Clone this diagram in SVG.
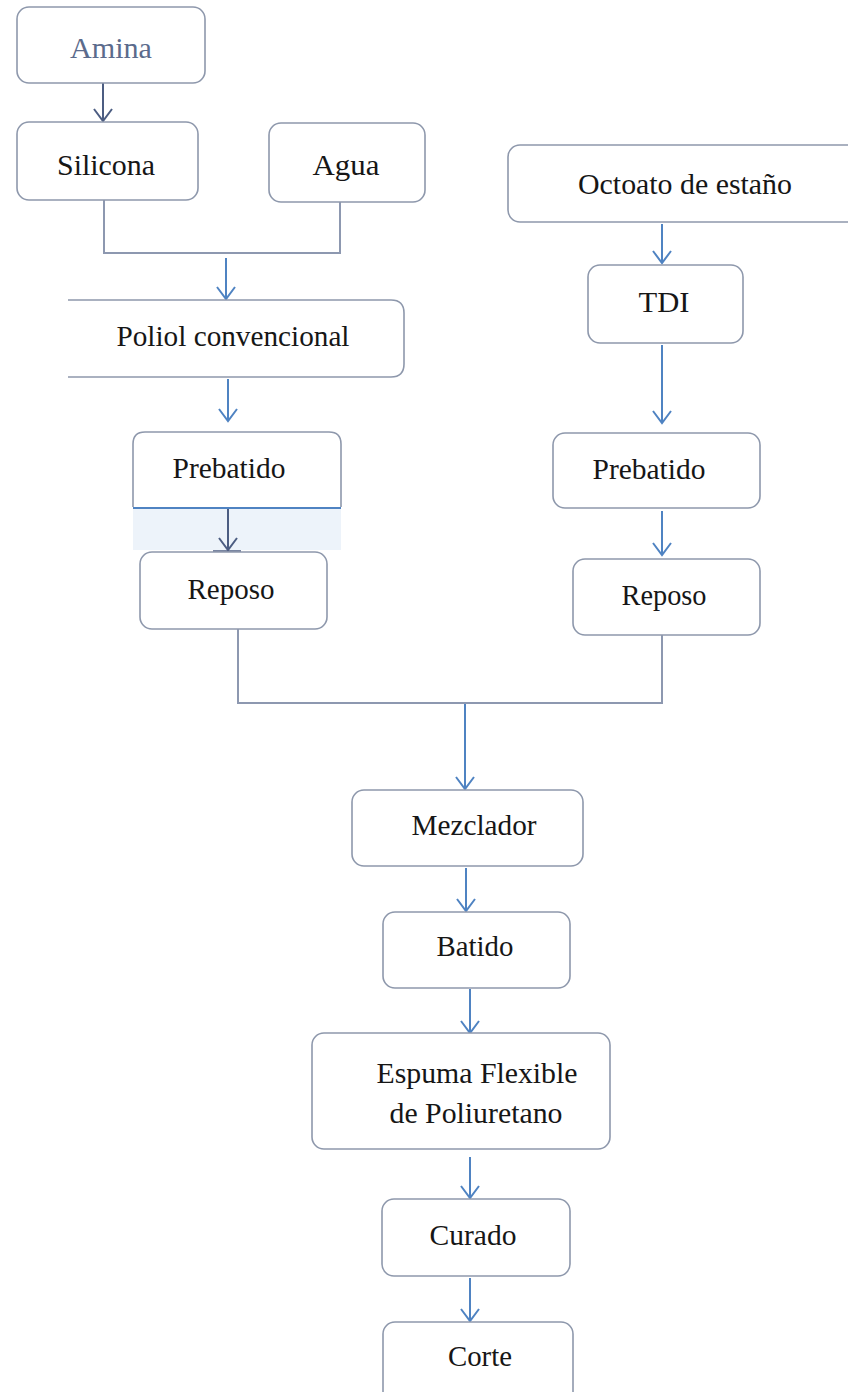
<svg xmlns="http://www.w3.org/2000/svg" width="848" height="1392" viewBox="0 0 848 1392">
<defs>
<style>
.box{fill:#ffffff;stroke:#8e98ac;stroke-width:1.6}
.t{font-family:"Liberation Serif","Times New Roman",serif;font-size:29px;fill:#161616}
.ln{fill:none;stroke:#8d98b0;stroke-width:2}
.ar{fill:none;stroke:#4f83c2;stroke-width:2}
.ard{fill:none;stroke:#4c5d82;stroke-width:2}
</style>
<marker id="v" viewBox="0 0 20 20" refX="18" refY="10" markerWidth="20" markerHeight="20" markerUnits="userSpaceOnUse" orient="auto">
<path d="M6,1 L18,10 L6,19" fill="none" stroke="#4f83c2" stroke-width="2"/>
</marker>
<marker id="vd" viewBox="0 0 20 20" refX="18" refY="10" markerWidth="20" markerHeight="20" markerUnits="userSpaceOnUse" orient="auto">
<path d="M6,1 L18,10 L6,19" fill="none" stroke="#4c5d82" stroke-width="2"/>
</marker>
</defs>
<rect width="848" height="1392" fill="#ffffff"/>

<g id="connectors">
<line class="ard" x1="103" y1="82" x2="103" y2="121" marker-end="url(#vd)"/>
<polyline class="ln" points="104,200 104,253 340,253 340,202"/>
<line class="ar" x1="226" y1="258" x2="226" y2="299" marker-end="url(#v)"/>
<line class="ar" x1="228" y1="379" x2="228" y2="421" marker-end="url(#v)"/>
<rect x="133" y="509" width="208" height="41" fill="#edf3fa"/>
<line x1="133" y1="508" x2="341" y2="508" stroke="#4f83c2" stroke-width="2"/>
<line class="ard" x1="228" y1="509" x2="228" y2="550" marker-end="url(#vd)"/>
<line x1="213" y1="551" x2="241" y2="551" stroke="#4c5d82" stroke-width="1.5"/>
<line class="ar" x1="662" y1="224" x2="662" y2="263" marker-end="url(#v)"/>
<line class="ar" x1="662" y1="345" x2="662" y2="423" marker-end="url(#v)"/>
<line class="ar" x1="662" y1="511" x2="662" y2="555" marker-end="url(#v)"/>
<polyline class="ln" points="238,629 238,703 662,703 662,635"/>
<line class="ar" x1="465" y1="704" x2="465" y2="789" marker-end="url(#v)"/>
<line class="ar" x1="466" y1="868" x2="466" y2="911" marker-end="url(#v)"/>
<line class="ar" x1="470" y1="989" x2="470" y2="1033" marker-end="url(#v)"/>
<line class="ar" x1="470" y1="1157" x2="470" y2="1198" marker-end="url(#v)"/>
<line class="ar" x1="470" y1="1278" x2="470" y2="1321" marker-end="url(#v)"/>
</g>

<g id="amina">
<rect class="box" x="17" y="7" width="188" height="76" rx="12"/>
<text class="t" x="111" y="58" text-anchor="middle" style="fill:#5b6b8c" textLength="82" lengthAdjust="spacingAndGlyphs">Amina</text>
</g>
<g id="silicona">
<rect class="box" x="17" y="122" width="181" height="78" rx="12"/>
<text class="t" x="106" y="175" text-anchor="middle" textLength="98" lengthAdjust="spacingAndGlyphs">Silicona</text>
</g>
<g id="agua">
<rect class="box" x="269" y="123" width="156" height="79" rx="12"/>
<text class="t" x="346" y="175" text-anchor="middle" textLength="67" lengthAdjust="spacingAndGlyphs">Agua</text>
</g>
<g id="poliol">
<path class="box" d="M68,300 H391 Q404,300 404,313 V364 Q404,377 391,377 H68"/>
<text class="t" x="233" y="346" text-anchor="middle" textLength="233" lengthAdjust="spacingAndGlyphs">Poliol convencional</text>
</g>
<g id="prebatido1">
<path class="box" d="M133,507 V444 Q133,432 145,432 H329 Q341,432 341,444 V507"/>
<text class="t" x="229" y="478" text-anchor="middle" textLength="113" lengthAdjust="spacingAndGlyphs">Prebatido</text>
</g>
<g id="reposo1">
<rect class="box" x="140" y="552" width="187" height="77" rx="12"/>
<text class="t" x="231" y="599" text-anchor="middle" textLength="87" lengthAdjust="spacingAndGlyphs">Reposo</text>
</g>
<g id="octoato">
<rect class="box" x="508" y="145" width="360" height="77" rx="12"/>
<text class="t" x="685" y="194" text-anchor="middle" textLength="214" lengthAdjust="spacingAndGlyphs">Octoato de estaño</text>
</g>
<g id="tdi">
<rect class="box" x="588" y="265" width="155" height="78" rx="12"/>
<text class="t" x="664" y="312" text-anchor="middle" textLength="51" lengthAdjust="spacingAndGlyphs">TDI</text>
</g>
<g id="prebatido2">
<rect class="box" x="553" y="433" width="207" height="75" rx="12"/>
<text class="t" x="649" y="479" text-anchor="middle" textLength="113" lengthAdjust="spacingAndGlyphs">Prebatido</text>
</g>
<g id="reposo2">
<rect class="box" x="573" y="559" width="187" height="76" rx="12"/>
<text class="t" x="664" y="605" text-anchor="middle" textLength="85" lengthAdjust="spacingAndGlyphs">Reposo</text>
</g>
<g id="mezclador">
<rect class="box" x="352" y="790" width="231" height="76" rx="12"/>
<text class="t" x="474" y="835" text-anchor="middle" textLength="125" lengthAdjust="spacingAndGlyphs">Mezclador</text>
</g>
<g id="batido">
<rect class="box" x="383" y="912" width="187" height="76" rx="12"/>
<text class="t" x="475" y="956" text-anchor="middle" textLength="77" lengthAdjust="spacingAndGlyphs">Batido</text>
</g>
<g id="espuma">
<rect class="box" x="312" y="1033" width="298" height="116" rx="12"/>
<text class="t" x="477" y="1083" text-anchor="middle" textLength="201" lengthAdjust="spacingAndGlyphs">Espuma Flexible</text>
<text class="t" x="476" y="1123" text-anchor="middle" textLength="173" lengthAdjust="spacingAndGlyphs">de Poliuretano</text>
</g>
<g id="curado">
<rect class="box" x="382" y="1199" width="188" height="77" rx="12"/>
<text class="t" x="473" y="1245" text-anchor="middle" textLength="87" lengthAdjust="spacingAndGlyphs">Curado</text>
</g>
<g id="corte">
<rect class="box" x="383" y="1322" width="190" height="90" rx="12"/>
<text class="t" x="480" y="1366" text-anchor="middle" textLength="64" lengthAdjust="spacingAndGlyphs">Corte</text>
</g>
</svg>
